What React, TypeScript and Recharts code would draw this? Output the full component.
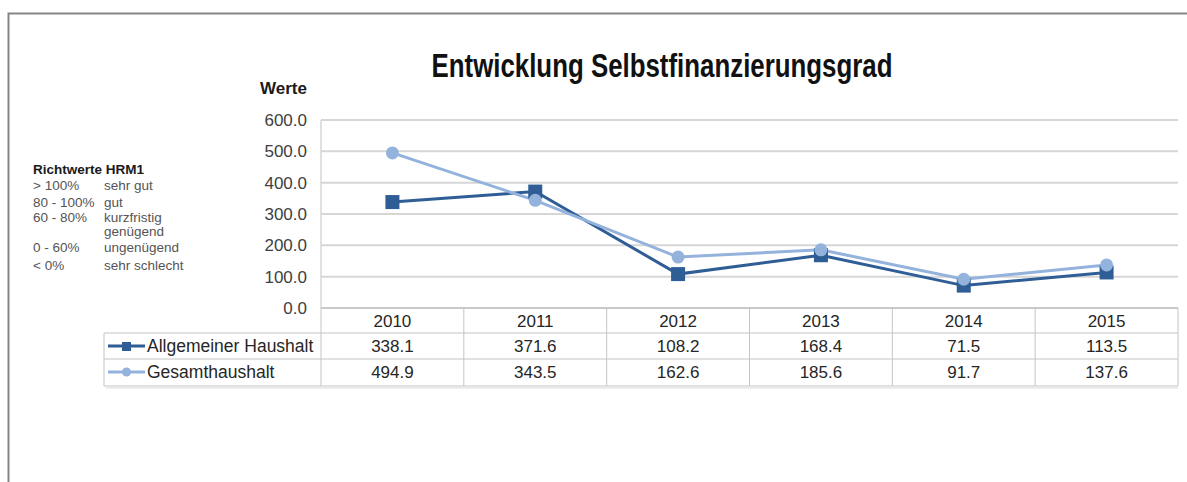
import { CartesianGrid, Line, LineChart, XAxis, YAxis } from "recharts";

const years = ["2010", "2011", "2012", "2013", "2014", "2015"];
const allgemeinerHaushalt = [338.1, 371.6, 108.2, 168.4, 71.5, 113.5];
const gesamtHaushalt = [494.9, 343.5, 162.6, 185.6, 91.7, 137.6];
const yTicks = [0, 100, 200, 300, 400, 500, 600];

const richtwerte = [
  ["> 100%", "sehr gut"],
  ["80 - 100%", "gut"],
  ["60 - 80%", "kurzfristig"],
  ["", "genügend"],
  ["0 - 60%", "ungenügend"],
  ["< 0%", "sehr schlecht"],
];

const data = years.map((year, i) => ({
  year,
  allg: allgemeinerHaushalt[i],
  gesamt: gesamtHaushalt[i],
}));

const DARK = "#2f5d95";
const LIGHT = "#93b3dc";
const FONT = "'Liberation Sans', Arial, sans-serif";
const TABLE_LINE = "#c4c4c4";

const W = 1187;
const H = 482;
const PLOT_LEFT = 321;
const PLOT_RIGHT = 1178;
const PLOT_BOTTOM = 308;
const X_AXIS_H = 80;
const COL_W = (PLOT_RIGHT - PLOT_LEFT) / years.length;
const ROW_H = [25, 26, 27];

const SquareDot = (props: any) => {
  const { cx, cy, index } = props;
  if (cx == null || cy == null) return null;
  return <rect key={`sq-${index}`} x={cx - 7} y={cy - 7} width={14} height={14} fill={DARK} />;
};

const CircleDot = (props: any) => {
  const { cx, cy, index } = props;
  if (cx == null || cy == null) return null;
  return <circle key={`ci-${index}`} cx={cx} cy={cy} r={6.5} fill={LIGHT} />;
};

// each x tick draws one column of the data table under the plot
const TableTick = (props: any) => {
  const { x, y, payload, index } = props;
  const i = index ?? years.indexOf(payload.value);
  const left = x - COL_W / 2;
  const right = x + COL_W / 2;
  const r1 = y + ROW_H[0];
  const r2 = r1 + ROW_H[1];
  const r3 = r2 + ROW_H[2];
  const textProps = { fontFamily: FONT, fontSize: 17, fill: "#262626", textAnchor: "middle" as const, dominantBaseline: "central" as const };
  return (
    <g>
      {i === 0 && <line x1={left} x2={left} y1={y} y2={r3} stroke={TABLE_LINE} />}
      <line x1={right} x2={right} y1={y} y2={r3} stroke={TABLE_LINE} />
      <line x1={left} x2={right} y1={r1} y2={r1} stroke={TABLE_LINE} />
      <line x1={left} x2={right} y1={r2} y2={r2} stroke={TABLE_LINE} />
      <line x1={left} x2={right} y1={r3} y2={r3} stroke={TABLE_LINE} />
      <line x1={left} x2={right} y1={r3 + 2} y2={r3 + 2} stroke="#ececec" strokeWidth={2} />
      <text x={x} y={y + ROW_H[0] / 2 + 1} {...textProps}>{payload.value}</text>
      <text x={x} y={r1 + ROW_H[1] / 2} {...textProps}>{allgemeinerHaushalt[i].toFixed(1)}</text>
      <text x={x} y={r2 + ROW_H[2] / 2} {...textProps}>{gesamtHaushalt[i].toFixed(1)}</text>
    </g>
  );
};

const TableLegend = () => {
  const r1 = PLOT_BOTTOM + ROW_H[0];
  const r2 = r1 + ROW_H[1];
  const r3 = r2 + ROW_H[2];
  const left = 104;
  const textProps = { fontFamily: FONT, fontSize: 17.5, fill: "#262626", dominantBaseline: "central" as const };
  return (
    <g>
      <line x1={left} x2={PLOT_LEFT} y1={r1} y2={r1} stroke={TABLE_LINE} />
      <line x1={left} x2={PLOT_LEFT} y1={r2} y2={r2} stroke={TABLE_LINE} />
      <line x1={left} x2={PLOT_LEFT} y1={r3} y2={r3} stroke={TABLE_LINE} />
      <line x1={left} x2={left} y1={r1} y2={r3} stroke={TABLE_LINE} />
      <line x1={left + 2} x2={PLOT_LEFT} y1={r3 + 2} y2={r3 + 2} stroke="#ececec" strokeWidth={2} />
      <line x1={108} x2={145} y1={r1 + 13} y2={r1 + 13} stroke={DARK} strokeWidth={3} />
      <rect x={122} y={r1 + 9} width={9} height={9} fill={DARK} />
      <text x={147} y={r1 + 13} {...textProps}>Allgemeiner Haushalt</text>
      <line x1={108} x2={145} y1={r2 + 13} y2={r2 + 13} stroke={LIGHT} strokeWidth={3} />
      <circle cx={126.5} cy={r2 + 13} r={4.5} fill={LIGHT} />
      <text x={147} y={r2 + 13} {...textProps}>Gesamthaushalt</text>
    </g>
  );
};

const SideNotes = () => (
  <g fontFamily={FONT}>
    <text x={33} y={173.5} fontSize={13.5} fontWeight="bold" fill="#1a1a1a">Richtwerte HRM1</text>
    {richtwerte.map(([range, label], i) => {
      const ys = [189.5, 206.5, 222, 236, 252, 270];
      return (
        <g key={i} fontSize={13.5} fill="#555">
          <text x={33} y={ys[i]}>{range}</text>
          <text x={104} y={ys[i]}>{label}</text>
        </g>
      );
    })}
  </g>
);

export default function App() {
  return (
    <div style={{ position: "absolute", left: 0, top: 0, width: W, height: H, overflow: "hidden", background: "#fff" }}>
      <LineChart
        width={W}
        height={H}
        data={data}
        margin={{ top: 120, right: W - PLOT_RIGHT, bottom: H - PLOT_BOTTOM - X_AXIS_H, left: PLOT_LEFT - 70 }}
      >
        <path d={`M8.5 ${H} V13.5 H${W}`} fill="none" stroke="#858585" strokeWidth={2} />
        <text
          x={662}
          y={77}
          textAnchor="middle"
          fontFamily={FONT}
          fontWeight="bold"
          fontSize={33}
          fill="#111"
          textLength={461}
          lengthAdjust="spacingAndGlyphs"
        >
          Entwicklung Selbstfinanzierungsgrad
        </text>
        <text x={307} y={94} textAnchor="end" fontFamily={FONT} fontWeight="bold" fontSize={17} fill="#1a1a1a">
          Werte
        </text>
        <SideNotes />
        <TableLegend />
        <CartesianGrid vertical={false} stroke="#d6d6d6" strokeWidth={2} />
        <XAxis
          dataKey="year"
          height={X_AXIS_H}
          interval={0}
          tickLine={false}
          tickSize={0}
          tickMargin={0}
          axisLine={{ stroke: TABLE_LINE, strokeWidth: 1.5 }}
          padding={{ left: COL_W / 2, right: COL_W / 2 }}
          tick={<TableTick />}
        />
        <YAxis
          width={70}
          domain={[0, 600]}
          ticks={yTicks}
          interval={0}
          tickLine={false}
          tickSize={0}
          tickMargin={14}
          axisLine={{ stroke: "#d6d6d6", strokeWidth: 1.5 }}
          tickFormatter={(v: number) => v.toFixed(1)}
          tick={{ fontFamily: FONT, fontSize: 17, fill: "#404040" }}
        />
        <Line
          dataKey="allg"
          stroke={DARK}
          strokeWidth={3}
          dot={<SquareDot />}
          activeDot={false}
          isAnimationActive={false}
        />
        <Line
          dataKey="gesamt"
          stroke={LIGHT}
          strokeWidth={3}
          dot={<CircleDot />}
          activeDot={false}
          isAnimationActive={false}
        />
      </LineChart>
    </div>
  );
}
